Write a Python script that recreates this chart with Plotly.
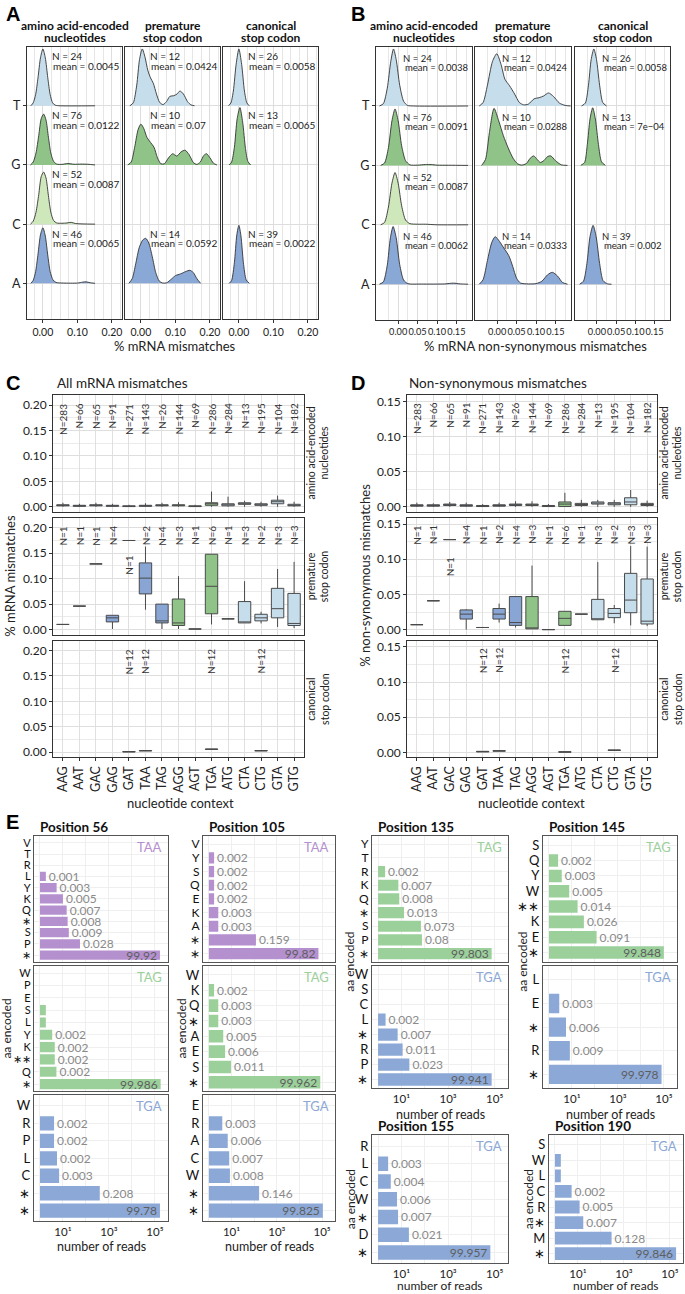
import plotly.graph_objects as go

W, H = 685, 1294
FONT = 'Lato, Liberation Sans, sans-serif'

# ================= Panels A / B : ridgeline densities =================
# each curve: (mismatch fraction, ridge height in row units)
A_aa_T = [(-0.035,0),(-0.028,0.05),(-0.021,0.19),(-0.014,0.48),(-0.007,0.81),(0.0,0.96),(0.007,0.81),(0.014,0.48),(0.021,0.19),(0.028,0.05),(0.036,0.01),(0.05,0),(0.151,0)]
A_aa_G = [(-0.036,0),(-0.028,0.05),(-0.02,0.2),(-0.012,0.5),(-0.005,0.78),(0.002,0.86),(0.009,0.76),(0.016,0.47),(0.023,0.2),(0.031,0.06),(0.04,0.015),(0.055,0.01),(0.072,0.025),(0.09,0.012),(0.11,0.015),(0.13,0.012),(0.151,0)]
A_aa_C = [(-0.036,0),(-0.028,0.05),(-0.02,0.2),(-0.012,0.5),(-0.005,0.8),(0.002,0.88),(0.009,0.78),(0.016,0.48),(0.023,0.2),(0.031,0.06),(0.04,0.02),(0.055,0.015),(0.07,0.02),(0.082,0.03),(0.095,0.01),(0.151,0)]
A_aa_A = [(-0.035,0),(-0.028,0.05),(-0.021,0.2),(-0.014,0.5),(-0.007,0.82),(0.0,0.94),(0.007,0.8),(0.014,0.48),(0.021,0.2),(0.029,0.06),(0.038,0.015),(0.06,0.005),(0.1,0.005),(0.115,0.02),(0.125,0.025),(0.137,0.01),(0.151,0)]
A_pre_T = [(-0.032,0),(-0.022,0.05),(-0.012,0.35),(-0.004,0.78),(0.004,0.96),(0.012,0.82),(0.02,0.6),(0.028,0.47),(0.036,0.38),(0.045,0.2),(0.054,0.06),(0.064,0.02),(0.074,0.07),(0.084,0.16),(0.095,0.17),(0.105,0.2),(0.113,0.25),(0.123,0.2),(0.135,0.07),(0.145,0.015),(0.155,0)]
A_pre_G = [(-0.038,0),(-0.028,0.05),(-0.018,0.3),(-0.008,0.6),(0.0,0.69),(0.008,0.62),(0.018,0.46),(0.028,0.38),(0.038,0.3),(0.048,0.12),(0.058,0.02),(0.068,0.02),(0.08,0.12),(0.092,0.19),(0.104,0.15),(0.116,0.22),(0.128,0.25),(0.14,0.17),(0.152,0.04),(0.162,0.01),(0.172,0.05),(0.182,0.16),(0.19,0.19),(0.2,0.12),(0.21,0.03),(0.22,0)]
A_pre_A = [(-0.035,0),(-0.025,0.08),(-0.015,0.33),(-0.005,0.6),(0.005,0.73),(0.014,0.76),(0.023,0.68),(0.033,0.45),(0.043,0.18),(0.053,0.04),(0.063,0.005),(0.075,0.01),(0.088,0.07),(0.1,0.13),(0.115,0.16),(0.13,0.2),(0.142,0.22),(0.152,0.18),(0.162,0.08),(0.173,0)]
A_can_T = [(-0.03,0),(-0.023,0.05),(-0.016,0.25),(-0.008,0.7),(0.0,0.96),(0.008,0.7),(0.016,0.25),(0.023,0.05),(0.03,0)]
A_can_G = [(-0.028,0),(-0.021,0.05),(-0.013,0.3),(-0.005,0.78),(0.003,0.97),(0.011,0.72),(0.019,0.28),(0.026,0.06),(0.034,0)]
A_can_A = [(-0.028,0),(-0.021,0.05),(-0.013,0.35),(-0.006,0.82),(0.0,0.98),(0.006,0.8),(0.013,0.35),(0.021,0.06),(0.03,0)]

B_aa_T = [(-0.048,0),(-0.038,0.04),(-0.028,0.3),(-0.019,0.75),(-0.012,0.96),(-0.005,0.78),(0.004,0.35),(0.014,0.08),(0.024,0.01),(0.04,0),(0.18,0)]
B_aa_G = [(-0.045,0),(-0.035,0.04),(-0.025,0.3),(-0.016,0.75),(-0.008,0.95),(0.0,0.75),(0.009,0.33),(0.019,0.08),(0.03,0.01),(0.05,0.005),(0.07,0.015),(0.085,0.015),(0.1,0.005),(0.13,0.003),(0.18,0)]
B_aa_C = [(-0.045,0),(-0.035,0.04),(-0.025,0.3),(-0.016,0.7),(-0.008,0.88),(0.0,0.7),(0.009,0.32),(0.019,0.08),(0.03,0.02),(0.05,0.01),(0.07,0.01),(0.1,0),(0.18,0)]
B_aa_A = [(-0.048,0),(-0.038,0.04),(-0.028,0.32),(-0.02,0.78),(-0.013,0.97),(-0.005,0.78),(0.004,0.33),(0.014,0.07),(0.025,0.01),(0.06,0.003),(0.12,0.005),(0.142,0.018),(0.16,0.005),(0.18,0)]
B_pre_T = [(-0.046,0),(-0.036,0.06),(-0.025,0.35),(-0.012,0.75),(-0.001,0.88),(0.01,0.7),(0.02,0.45),(0.032,0.34),(0.045,0.2),(0.057,0.06),(0.068,0.02),(0.08,0.03),(0.095,0.12),(0.108,0.14),(0.12,0.17),(0.132,0.22),(0.145,0.16),(0.16,0.05),(0.175,0.01),(0.189,0)]
B_pre_G = [(-0.04,0),(-0.03,0.1),(-0.02,0.55),(-0.008,0.96),(0.004,0.75),(0.016,0.5),(0.028,0.3),(0.041,0.12),(0.052,0.03),(0.062,0.005),(0.075,0.03),(0.085,0.12),(0.094,0.16),(0.103,0.1),(0.111,0.05),(0.12,0.08),(0.13,0.15),(0.138,0.16),(0.15,0.08),(0.165,0.01),(0.181,0)]
B_pre_A = [(-0.046,0),(-0.036,0.08),(-0.025,0.4),(-0.014,0.7),(-0.005,0.8),(0.006,0.72),(0.018,0.6),(0.03,0.48),(0.04,0.3),(0.05,0.1),(0.06,0.02),(0.08,0.005),(0.1,0.01),(0.115,0.05),(0.13,0.16),(0.142,0.2),(0.155,0.14),(0.168,0.03),(0.181,0)]
B_can_T = [(-0.04,0),(-0.03,0.05),(-0.022,0.35),(-0.015,0.78),(-0.008,0.96),(-0.001,0.78),(0.007,0.35),(0.015,0.06),(0.025,0)]
B_can_G = [(-0.042,0),(-0.032,0.05),(-0.025,0.35),(-0.018,0.78),(-0.011,0.97),(-0.004,0.78),(0.004,0.35),(0.012,0.06),(0.022,0)]
B_can_A = [(-0.045,0),(-0.035,0.05),(-0.026,0.35),(-0.018,0.8),(-0.01,0.99),(-0.002,0.8),(0.007,0.35),(0.016,0.06),(0.028,0.005),(0.038,0)]

RIDGE_ROWS = ['T', 'G', 'C', 'A']          # top to bottom
ROW_BASE = {'A': 0, 'C': 1, 'G': 2, 'T': 3}
ROW_COLORS = {'T': '#c6ddec', 'G': '#8fc388', 'C': '#cfe8bb', 'A': '#8aa8d6'}
COLUMN_TITLES = [('amino acid-encoded', 'nucleotides'), ('premature', 'stop codon'), ('canonical', 'stop codon')]

A_N = [[24, 76, 52, 46], [12, 10, None, 14], [26, 13, None, 39]]
A_MEAN = [['0.0045', '0.0122', '0.0087', '0.0065'], ['0.0424', '0.07', None, '0.0592'], ['0.0058', '0.0065', None, '0.0022']]
B_N = [[24, 76, 52, 46], [12, 10, None, 14], [26, 13, None, 39]]
B_MEAN = [['0.0038', '0.0091', '0.0087', '0.0062'], ['0.0424', '0.0288', None, '0.0333'], ['0.0058', '7e\u221204', None, '0.002']]

A_CURVES = [[A_aa_T, A_aa_G, A_aa_C, A_aa_A], [A_pre_T, A_pre_G, None, A_pre_A], [A_can_T, A_can_G, None, A_can_A]]
B_CURVES = [[B_aa_T, B_aa_G, B_aa_C, B_aa_A], [B_pre_T, B_pre_G, None, B_pre_A], [B_can_T, B_can_G, None, B_can_A]]

# ================= Panels C / D : box plots =================
CODONS = ['AAG', 'AAT', 'GAC', 'GAG', 'GAT', 'TAA', 'TAG', 'AGG', 'AGT', 'TGA', 'ATG', 'CTA', 'CTG', 'GTA', 'GTG']
MID_COLORS = {'A': '#88a5d3', 'G': '#8fc388', 'T': '#c6ddec'}
N_AA = [283, 66, 65, 91, 271, 143, 26, 144, 69, 286, 284, 13, 195, 104, 182]
N_PRE = [1, 1, 1, 4, 1, 2, 4, 3, 1, 6, 1, 3, 2, 3, 3]
N_CAN = [None, None, None, None, 12, 12, None, None, None, 12, None, None, 12, None, None]

C_aa_lo  = [0, 0, 0, 0, 0, 0, 0, 0, 0, 0, 0, 0, 0, 0, 0]
C_aa_q1  = [0.002, 0.001, 0.002, 0.001, 0.0005, 0.001, 0.002, 0.002, 0.0005, 0.003, 0.002, 0.005, 0.003, 0.006, 0.002]
C_aa_med = [0.003, 0.002, 0.003, 0.002, 0.001, 0.002, 0.003, 0.003, 0.001, 0.006, 0.004, 0.006, 0.004, 0.010, 0.003]
C_aa_q3  = [0.004, 0.003, 0.004, 0.003, 0.002, 0.003, 0.004, 0.004, 0.002, 0.008, 0.006, 0.008, 0.006, 0.013, 0.005]
C_aa_hi  = [0.008, 0.006, 0.008, 0.006, 0.004, 0.007, 0.008, 0.009, 0.004, 0.03, 0.02, 0.012, 0.01, 0.022, 0.01]
C_pre_lo  = [0.010, 0.046, 0.129, 0.001, 0.175, 0.039, 0.001, 0.001, 0.001, 0.010, 0.021, 0.013, 0.012, 0.005, 0.003]
C_pre_q1  = [0.010, 0.046, 0.129, 0.015, 0.175, 0.070, 0.013, 0.008, 0.001, 0.031, 0.021, 0.013, 0.017, 0.023, 0.008]
C_pre_med = [0.010, 0.046, 0.129, 0.023, 0.175, 0.101, 0.017, 0.013, 0.001, 0.085, 0.021, 0.015, 0.023, 0.041, 0.012]
C_pre_q3  = [0.010, 0.046, 0.129, 0.028, 0.175, 0.131, 0.050, 0.060, 0.001, 0.148, 0.021, 0.055, 0.030, 0.081, 0.071]
C_pre_hi  = [0.010, 0.046, 0.129, 0.028, 0.175, 0.163, 0.050, 0.105, 0.001, 0.148, 0.021, 0.095, 0.035, 0.119, 0.133]
C_can_med = [None, None, None, None, 0.001, 0.003, None, None, None, 0.006, None, None, 0.003, None, None]

D_aa_lo  = [0, 0, 0, 0, 0, 0, 0, 0, 0, 0, 0, 0, 0, 0, 0]
D_aa_q1  = [0.001, 0.001, 0.002, 0.001, 0.0005, 0.001, 0.002, 0.002, 0.0005, 0.0005, 0.002, 0.004, 0.003, 0.003, 0.002]
D_aa_med = [0.002, 0.002, 0.003, 0.002, 0.001, 0.002, 0.003, 0.003, 0.001, 0.004, 0.003, 0.005, 0.004, 0.007, 0.003]
D_aa_q3  = [0.003, 0.003, 0.004, 0.003, 0.002, 0.003, 0.004, 0.004, 0.002, 0.007, 0.005, 0.007, 0.006, 0.013, 0.005]
D_aa_hi  = [0.006, 0.005, 0.007, 0.006, 0.004, 0.006, 0.008, 0.008, 0.004, 0.02, 0.01, 0.01, 0.01, 0.024, 0.009]
D_pre_lo  = [0.007, 0.041, 0.128, 0.0, 0.003, 0.010, 0.003, 0.001, 0.0, 0.006, 0.022, 0.014, 0.009, 0.006, 0.005]
D_pre_q1  = [0.007, 0.041, 0.128, 0.015, 0.003, 0.015, 0.006, 0.001, 0.0, 0.006, 0.022, 0.014, 0.017, 0.024, 0.008]
D_pre_med = [0.007, 0.041, 0.128, 0.022, 0.003, 0.022, 0.010, 0.001, 0.0, 0.016, 0.022, 0.015, 0.023, 0.042, 0.012]
D_pre_q3  = [0.007, 0.041, 0.128, 0.028, 0.003, 0.030, 0.047, 0.047, 0.0, 0.026, 0.022, 0.043, 0.030, 0.080, 0.072]
D_pre_hi  = [0.007, 0.041, 0.128, 0.029, 0.003, 0.037, 0.047, 0.091, 0.0, 0.026, 0.022, 0.096, 0.035, 0.119, 0.118]
D_can_med = [None, None, None, None, 0.001, 0.002, None, None, None, 0.0005, None, None, 0.003, None, None]

# ================= Panel E : reads per encoded amino acid =================
E56_TAA_aa = ['V', 'T', 'R', 'L', 'Y', 'K', 'Q', '*', 'S', 'P', '*']
E56_TAA_reads = [0, 0, 0, 1.8, 5.3, 10, 14.5, 16, 18, 55, 166000]
E56_TAA_lab = ['', '', '', '0.001', '0.003', '0.005', '0.007', '0.008', '0.009', '0.028', '99.92']
E56_TAG_aa = ['W', 'P', 'E', 'S', 'L', 'Y', 'K', '**', 'Q', '*']
E56_TAG_reads = [0, 0, 0, 1.8, 1.8, 3.4, 4.4, 4.4, 5.2, 178000]
E56_TAG_lab = ['', '', '', '', '', '0.002', '0.002', '0.002', '0.002', '99.986']
E56_TGA_aa = ['W', 'R', 'P', 'L', 'C', '*', '*']
E56_TGA_reads = [0, 4.1, 4.1, 5.5, 6.8, 400, 166000]
E56_TGA_lab = ['', '0.002', '0.002', '0.002', '0.003', '0.208', '99.78']
E105_TAA_aa = ['V', 'Y', 'S', 'Q', 'E', 'K', 'A', '*', '*']
E105_TAA_reads = [0, 1.7, 1.7, 1.7, 1.7, 2.6, 2.6, 120, 69000]
E105_TAA_lab = ['', '0.002', '0.002', '0.002', '0.002', '0.003', '0.003', '0.159', '99.82']
E105_TAG_aa = ['W', 'K', 'Q', '*', 'A', 'E', 'S', '*']
E105_TAG_reads = [0, 1.7, 2.6, 2.6, 4.3, 5.2, 9.5, 83000]
E105_TAG_lab = ['', '0.002', '0.003', '0.003', '0.005', '0.006', '0.011', '99.962']
E105_TGA_aa = ['E', 'R', 'A', 'C', 'W', '*', '*']
E105_TGA_reads = [0, 3.9, 6.8, 7.9, 8.5, 165, 108000]
E105_TGA_lab = ['', '0.003', '0.006', '0.007', '0.008', '0.146', '99.825']
E135_TAG_aa = ['Y', 'T', 'R', 'K', 'Q', '*', 'S', 'P', '*']
E135_TAG_reads = [0, 0, 2, 7.4, 8.1, 13, 69, 76, 74000]
E135_TAG_lab = ['', '', '0.002', '0.007', '0.008', '0.013', '0.073', '0.08', '99.803']
E135_TGA_aa = ['W', 'S', 'C', 'L', '*', 'R', 'P', '*']
E135_TGA_reads = [0, 0, 0, 2.1, 6.9, 11.3, 22, 74000]
E135_TGA_lab = ['', '', '', '0.002', '0.007', '0.011', '0.023', '99.941']
E145_TAG_aa = ['S', 'Q', 'Y', 'W', '**', 'K', 'E', '*']
E145_TAG_reads = [0, 2.5, 3.6, 7.6, 17.6, 33, 118, 100000]
E145_TAG_lab = ['', '0.002', '0.003', '0.005', '0.014', '0.026', '0.091', '99.848']
E145_TGA_aa = ['L', 'E', '*', 'R', '*']
E145_TGA_reads = [0, 2.8, 5.5, 8.1, 79000]
E145_TGA_lab = ['', '0.003', '0.006', '0.009', '99.978']
E155_TGA_aa = ['R', 'L', 'C', 'W', '*', 'D', '*']
E155_TGA_reads = [0, 2.7, 3.5, 6.5, 7.2, 21, 65000]
E155_TGA_lab = ['', '0.003', '0.004', '0.006', '0.007', '0.021', '99.957']
E190_TGA_aa = ['S', 'W', 'L', 'C', 'R', '*', 'M', '*']
E190_TGA_reads = [0, 1.8, 1.8, 5.3, 11.8, 17, 290, 186000]
E190_TGA_lab = ['', '', '', '0.002', '0.005', '0.007', '0.128', '99.846']
CODON_COLORS = {'TAA': '#b590cf', 'TAG': '#9bd09b', 'TGA': '#8ba8d6'}

# ======================================================================
fig = go.Figure()
ann = []
axis_count = [0]


def add_axes(xpx, ypx, xa, ya):
    axis_count[0] += 1
    k = axis_count[0]
    s = '' if k == 1 else str(k)
    xa = dict(xa)
    ya = dict(ya)
    xa.update(domain=[xpx[0] / W, xpx[1] / W], anchor='y' + s)
    ya.update(domain=[1 - ypx[1] / H, 1 - ypx[0] / H], anchor='x' + s)
    fig.update_layout({'xaxis' + s: xa, 'yaxis' + s: ya})
    return 'x' + s, 'y' + s


def note(text, x, y, size=11, color='#222', xanchor='center', yanchor='middle', angle=0,
         bold=False, xref='paper', yref='paper', family=FONT):
    if xref == 'paper':
        x = x / W
    if yref == 'paper':
        y = 1 - y / H
    if bold:
        text = '<b>' + text + '</b>'
    ann.append(dict(text=text, x=x, y=y, xref=xref, yref=yref, showarrow=False,
                    xanchor=xanchor, yanchor=yanchor, textangle=angle,
                    font=dict(size=size, color=color, family=family)))


BORDER = dict(showline=True, mirror=True, linecolor='#333', linewidth=1, zeroline=False)


# ---------------- Panels A and B ----------------
def ridge_panel(cols_px, ytop, ybot, xrange, major, minor, curves, ns, means, txt_x, yN, yM,
                tick_size, txt_size):
    for ci, (x0, x1) in enumerate(cols_px):
        xa = dict(range=xrange, tickvals=major, ticktext=['%.2f' % v for v in major], tickangle=0,
                  showgrid=True, gridcolor='#dddddd', gridwidth=1.2,
                  minor=dict(tickvals=minor, showgrid=True, gridcolor='#e6e6e6', gridwidth=1),
                  ticks='outside', ticklen=3, tickcolor='#333',
                  tickfont=dict(size=tick_size, family=FONT, color='#222'), **BORDER)
        ya = dict(range=[-0.607, 3.995], tickvals=[0, 1, 2, 3], ticktext=['A', 'C', 'G', 'T'],
                  showticklabels=(ci == 0), ticks='outside' if ci == 0 else '', ticklen=3, tickcolor='#333',
                  showgrid=True, gridcolor='#dddddd', gridwidth=1.2,
                  tickfont=dict(size=12.5, family=FONT, color='#222'), **BORDER)
        xr, yr = add_axes((x0, x1), (ytop, ybot), xa, ya)
        for ri, row in enumerate(RIDGE_ROWS):
            cur = curves[ci][ri]
            if cur is None:
                continue
            base = ROW_BASE[row]
            fig.add_trace(go.Scatter(
                x=[p[0] for p in cur], y=[base + p[1] for p in cur], mode='lines',
                line=dict(color='#333333', width=0.9, shape='spline', smoothing=0.7),
                fill='toself', fillcolor=ROW_COLORS[row], xaxis=xr, yaxis=yr,
                hoverinfo='skip', showlegend=False))
            note('N = %d' % ns[ci][ri], txt_x, base + yN, size=txt_size, xanchor='left', xref=xr, yref=yr)
            note('mean = ' + means[ci][ri], txt_x + 0.004, base + yM, size=txt_size, xanchor='left',
                 xref=xr, yref=yr)
        t1, t2 = COLUMN_TITLES[ci]
        cx = (x0 + x1) / 2
        note(t1, cx, 25, size=12, bold=True, color='#111')
        note(t2, cx, 37, size=12, bold=True, color='#111')


A_COLS = [(27, 122), (125, 220), (223, 318)]
B_COLS = [(376, 472), (475, 571), (575, 670)]
ridge_panel(A_COLS, 46, 319, [-0.046, 0.229], [0, 0.1, 0.2],
            [-0.025, 0.025, 0.05, 0.075, 0.125, 0.15, 0.175, 0.225],
            A_CURVES, A_N, A_MEAN, 0.02, 0.84, 0.68, 10.5, 10)
ridge_panel(B_COLS, 46, 320, [-0.057, 0.19], [0, 0.05, 0.1, 0.15],
            [-0.025, 0.025, 0.075, 0.125, 0.175],
            B_CURVES, B_N, B_MEAN, 0.008, 0.80, 0.65, 9.2, 9.5)
note('% mRNA mismatches', 175, 346, size=13)
note('% mRNA non-synonymous mismatches', 535, 346, size=13)

# ---------------- Panels C and D ----------------
FACETS_Y = [(395, 512), (518, 635), (641, 758)]
STRIPS = ['amino acid-encoded<br>nucleotides', 'premature<br>stop codon', 'canonical<br>stop codon']


def box_panel(xpx, yrange, ymajor, yminor, stats, ntop, ngat_idx, ngat_y, strip_x):
    for fi, (yt, yb) in enumerate(FACETS_Y):
        xa = dict(range=[-0.6, 14.6], tickvals=list(range(15)), ticktext=CODONS,
                  showticklabels=(fi == 2), tickangle=-90, ticks='outside' if fi == 2 else '',
                  ticklen=3, tickcolor='#333', showgrid=True, gridcolor='#e0e0e0', gridwidth=1.3,
                  tickfont=dict(size=12.5, family=FONT, color='#222'), **BORDER)
        ya = dict(range=yrange, tickvals=ymajor, ticktext=['%.2f' % v for v in ymajor],
                  ticks='outside', ticklen=3, tickcolor='#333', showgrid=True, gridcolor='#dedede',
                  gridwidth=1.3, minor=dict(tickvals=yminor, showgrid=True, gridcolor='#ebebeb', gridwidth=1),
                  tickfont=dict(size=12, family=FONT, color='#222'), **BORDER)
        xr, yr = add_axes(xpx, (yt, yb), xa, ya)
        st = stats[fi]
        for i, cod in enumerate(CODONS):
            if fi < 2:
                lo, q1, md, q3, hi = (st[0][i], st[1][i], st[2][i], st[3][i], st[4][i])
            else:
                md = st[i]
                if md is None:
                    continue
                lo, q1, q3, hi = md, md - 0.0004, md + 0.0004, md
            fig.add_trace(go.Box(x=[i], q1=[q1], median=[md], q3=[q3], lowerfence=[lo], upperfence=[hi],
                                 width=0.75, whiskerwidth=0, fillcolor=MID_COLORS[cod[1]],
                                 line=dict(color='#4a4a4a', width=1), boxpoints=False,
                                 xaxis=xr, yaxis=yr, hoverinfo='skip', showlegend=False))
        nlist = [N_AA, N_PRE, N_CAN][fi]
        for i, n in enumerate(nlist):
            if n is None:
                continue
            ytop = ntop
            if fi == 1 and i == ngat_idx:
                ytop = ngat_y
            note('N=%d' % n, i, ytop, size=10, angle=-90, yanchor='top', xref=xr, yref=yr, color='#333')
        note(STRIPS[fi], strip_x, (yt + yb) / 2, size=10.5, angle=-90, color='#222')


box_panel((53, 304), [-0.0098, 0.2196], [0, 0.05, 0.1, 0.15, 0.2], [0.025, 0.075, 0.125, 0.175],
          [(C_aa_lo, C_aa_q1, C_aa_med, C_aa_q3, C_aa_hi),
           (C_pre_lo, C_pre_q1, C_pre_med, C_pre_q3, C_pre_hi), C_can_med],
          0.207, 4, 0.15, 318)
box_panel((407, 657), [-0.007, 0.159], [0, 0.05, 0.1, 0.15], [0.025, 0.075, 0.125],
          [(D_aa_lo, D_aa_q1, D_aa_med, D_aa_q3, D_aa_hi),
           (D_pre_lo, D_pre_q1, D_pre_med, D_pre_q3, D_pre_hi), D_can_med],
          0.151, 2, 0.106, 671)
note('All mRNA mismatches', 55, 383, size=13.5, xanchor='left')
note('Non-synonymous mismatches', 407, 383, size=13.5, xanchor='left')
note('% mRNA mismatches', 10, 576, size=13, angle=-90)
note('% non-synonymous mismatches', 365, 576, size=13, angle=-90)
note('nucleotide context', 180, 804, size=13)
note('nucleotide context', 531, 804, size=13)

# ---------------- Panel E ----------------
E_COLS = [(34, 168), (203, 335), (372, 508), (543, 677)]
R12 = [(837, 963), (967, 1093), (1097, 1223)]
R34 = [(837, 963), (967, 1090)]
E_PANELS = [
    (E_COLS[0], R12[0], 'Position 56', 'TAA', E56_TAA_aa, E56_TAA_reads, E56_TAA_lab, False),
    (E_COLS[0], R12[1], None, 'TAG', E56_TAG_aa, E56_TAG_reads, E56_TAG_lab, False),
    (E_COLS[0], R12[2], None, 'TGA', E56_TGA_aa, E56_TGA_reads, E56_TGA_lab, True),
    (E_COLS[1], R12[0], 'Position 105', 'TAA', E105_TAA_aa, E105_TAA_reads, E105_TAA_lab, False),
    (E_COLS[1], R12[1], None, 'TAG', E105_TAG_aa, E105_TAG_reads, E105_TAG_lab, False),
    (E_COLS[1], R12[2], None, 'TGA', E105_TGA_aa, E105_TGA_reads, E105_TGA_lab, True),
    (E_COLS[2], R34[0], 'Position 135', 'TAG', E135_TAG_aa, E135_TAG_reads, E135_TAG_lab, False),
    (E_COLS[2], R34[1], None, 'TGA', E135_TGA_aa, E135_TGA_reads, E135_TGA_lab, True),
    (E_COLS[3], R34[0], 'Position 145', 'TAG', E145_TAG_aa, E145_TAG_reads, E145_TAG_lab, False),
    (E_COLS[3], R34[1], None, 'TGA', E145_TGA_aa, E145_TGA_reads, E145_TGA_lab, True),
    (E_COLS[2], (1137, 1265), 'Position 155', 'TGA', E155_TGA_aa, E155_TGA_reads, E155_TGA_lab, True),
    ((549, 683), (1137, 1265), 'Position 190', 'TGA', E190_TGA_aa, E190_TGA_reads, E190_TGA_lab, True),
]

for (xpx, ypx, title, codon, aa, reads, labs, xt) in E_PANELS:
    n = len(aa)
    xa = dict(type='log', range=[-0.26, 5.57], tickvals=[1, 10, 100, 1000, 10000, 100000],
              ticktext=['', '10\u00b9', '', '10\u00b3', '', '10\u2075'], showticklabels=xt, ticks='',
              showgrid=True, gridcolor='#efefef', gridwidth=1,
              tickfont=dict(size=11.5, family=FONT, color='#222'),
              showline=True, mirror=True, linecolor='#555', linewidth=1.2, zeroline=False)
    fsz = 11 if n >= 10 else (12 if n > 8 else 13)
    ya = dict(range=[-0.6, n - 0.4], tickvals=list(range(n)),
              ticktext=[a.replace('*', '\u2217') for a in aa[::-1]],
              showgrid=True, gridcolor='#efefef', gridwidth=1, ticks='',
              tickfont=dict(size=fsz, family=FONT, color='#111'),
              showline=True, mirror=True, linecolor='#555', linewidth=1.2, zeroline=False)
    xr, yr = add_axes(xpx, ypx, xa, ya)
    rv = reads[::-1]
    lv = labs[::-1]
    big = max(rv)
    fig.add_trace(go.Bar(
        orientation='h', y=list(range(n)), x=[(r - 1) if r > 0 else None for r in rv],
        base=[1] * n, width=0.82, marker=dict(color=CODON_COLORS[codon], line=dict(width=0)),
        text=lv, textposition=['inside' if r == big else 'outside' for r in rv],
        insidetextanchor='end', textangle=0, constraintext='none', cliponaxis=False,
        insidetextfont=dict(size=12, color='#5e5e5e', family=FONT),
        outsidetextfont=dict(size=12, color='#8a8a8a', family=FONT),
        xaxis=xr, yaxis=yr, hoverinfo='skip', showlegend=False))
    note(codon, xpx[1] - 4, ypx[0] + 11, size=13, color=CODON_COLORS[codon], xanchor='right')
    if title:
        note(title, xpx[0] + 4, ypx[0] - 9, size=13.5, bold=True, xanchor='left', color='#111')

note('aa encoded', 7, 1030, size=12, angle=-90)
note('aa encoded', 182, 1030, size=12, angle=-90)
note('aa encoded', 350, 963, size=12, angle=-90)
note('aa encoded', 523, 963, size=12, angle=-90)
note('aa encoded', 350, 1201, size=12, angle=-90)
note('aa encoded', 528, 1201, size=12, angle=-90)
note('number of reads', 101, 1248, size=12.5)
note('number of reads', 269, 1248, size=12.5)
note('number of reads', 440, 1116, size=12.5)
note('number of reads', 610, 1116, size=12.5)
note('number of reads', 440, 1287, size=12)
note('number of reads', 616, 1287, size=12)

for letter, x, y in [('A', 4, 13), ('B', 349, 13), ('C', 4, 383), ('D', 349, 383), ('E', 4, 823)]:
    note(letter, x, y, size=20, bold=True, xanchor='left', color='#000', family='Liberation Sans, Arial, sans-serif')

fig.update_layout(width=W, height=H, margin=dict(l=0, r=0, t=0, b=0),
                  paper_bgcolor='white', plot_bgcolor='white', showlegend=False,
                  boxmode='overlay', annotations=ann, font=dict(family=FONT))
fig.write_html('out.html', config={'displayModeBar': False},
               post_script="document.body.style.margin='0px';")
